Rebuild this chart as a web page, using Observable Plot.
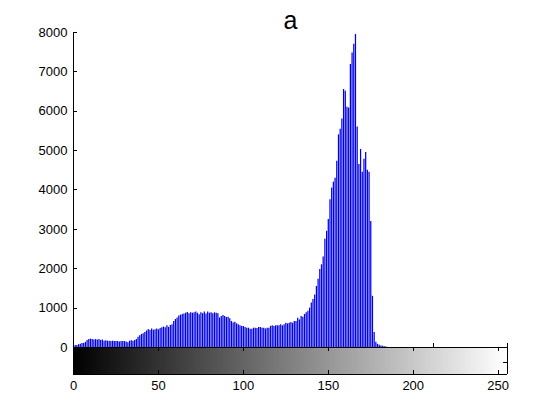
<!DOCTYPE html>
<html><head><meta charset="utf-8">
<script src="https://cdn.jsdelivr.net/npm/d3@7"></script>
<script src="https://cdn.jsdelivr.net/npm/@observablehq/plot@0.6"></script>
<style>body{margin:0;background:#fff}</style>
</head><body><div id="chart"></div>
<script>
const title = "a";
// pixel counts per gray level 0..255
const counts = [
  30,50,50,70,80,100,100,130,180,200,
  210,200,190,200,190,200,180,190,160,170,
  160,160,150,160,150,150,150,140,150,150,
  150,140,120,160,170,160,180,200,260,300,
  330,350,380,420,460,430,470,440,450,470,
  450,480,500,520,500,550,510,560,580,660,
  710,750,800,820,840,850,870,890,860,880,
  870,880,900,870,830,880,860,900,850,900,
  870,880,860,880,870,860,750,790,810,790,
  760,770,730,660,620,640,600,575,550,535,
  530,505,490,490,465,465,490,490,480,510,
  510,490,490,470,490,490,535,550,530,550,
  550,550,575,550,575,615,600,615,635,615,
  660,660,745,700,790,770,840,880,920,1000,
  1130,1220,1330,1550,1730,1980,2100,2300,2750,2950,
  3250,3750,4050,4200,4300,4730,5400,5540,5800,6550,
  6510,6100,6080,7190,7480,7700,7950,5600,4650,5030,
  4450,4780,4950,4500,4450,3200,1300,380,130,80,
  60,40,30,20,10,0,0,0,0,0,
  0,0,0,0,0,0,0,0,0,0,
  0,0,0,0,0,0,0,0,0,0,
  0,0,0,0,0,0,0,0,0,0,
  0,0,0,0,0,0,0,0,0,0,
  0,0,0,0,0,0,0,0,0,0,
  0,0,0,0,0,0,0,0,0,0,
  0,0,0,0,0,0
];
const yTicks = [0,1000,2000,3000,4000,5000,6000,7000,8000];
const xTicks = [0,50,100,150,200,250];
const grayLevels = d3.range(256);
const extraTicks = [212];

const xMax = 255.5;
const yMax = 8000;
const cbBottom = -686;   // colorbar strip below the zero line (in count units)
const cbMid = -381;

const hist = counts.map((count, bin) => ({bin, count})).filter(d => d.count > 0);
const black = "#000";

const chart = Plot.plot({
  width: 560, height: 420,
  marginLeft: 73, marginRight: 53, marginTop: 32, marginBottom: 46,
  x: {domain: [0, xMax]},
  y: {domain: [cbBottom, yMax]},
  style: {fontFamily: "'Liberation Sans', Arial, sans-serif", fontSize: "13px", color: "#000", background: "#fff"},
  marks: [
    Plot.rect(grayLevels, {
      x1: d => Math.max(0, d - 0.5), x2: d => Math.min(xMax, d + 0.5),
      y1: cbBottom, y2: 0,
      fill: d => `rgb(${d},${d},${d})`, shapeRendering: "crispEdges"
    }),
    Plot.ruleX(hist, {x: "bin", y1: 0, y2: "count", stroke: "#0000e8", strokeWidth: 1.25}),
    Plot.ruleY([0, cbBottom], {x1: 0, x2: xMax, stroke: black, shapeRendering: "crispEdges"}),
    Plot.ruleX([0, xMax], {y1: cbBottom, y2: 0, stroke: black, shapeRendering: "crispEdges"}),
    Plot.ruleX([0], {y1: 0, y2: yMax, stroke: black, shapeRendering: "crispEdges"}),
    Plot.ruleY(yTicks, {x1: 0, x2: 2.4, stroke: black, shapeRendering: "crispEdges"}),
    Plot.ruleX(xTicks, {y1: 0, y2: -100, stroke: black, shapeRendering: "crispEdges"}),
    Plot.ruleX(xTicks, {y1: cbBottom, y2: cbBottom + 100, stroke: black, shapeRendering: "crispEdges"}),
    Plot.ruleX([...extraTicks, xMax], {y1: 0, y2: 110, stroke: black, shapeRendering: "crispEdges"}),
    Plot.ruleY([cbMid], {x1: xMax - 2.4, x2: xMax, stroke: black, shapeRendering: "crispEdges"}),
    Plot.axisY({ticks: yTicks, tickSize: 0, tickPadding: 6, label: null, tickFormat: d => String(d)}),
    Plot.axisX({ticks: xTicks, tickSize: 0, tickPadding: 6, label: null, tickFormat: d => String(d)}),
    Plot.text([title], {frameAnchor: "top", dy: -12, lineAnchor: "middle", fontSize: 25, fill: black})
  ]
});
document.getElementById("chart").append(chart);
</script>
</body></html>
